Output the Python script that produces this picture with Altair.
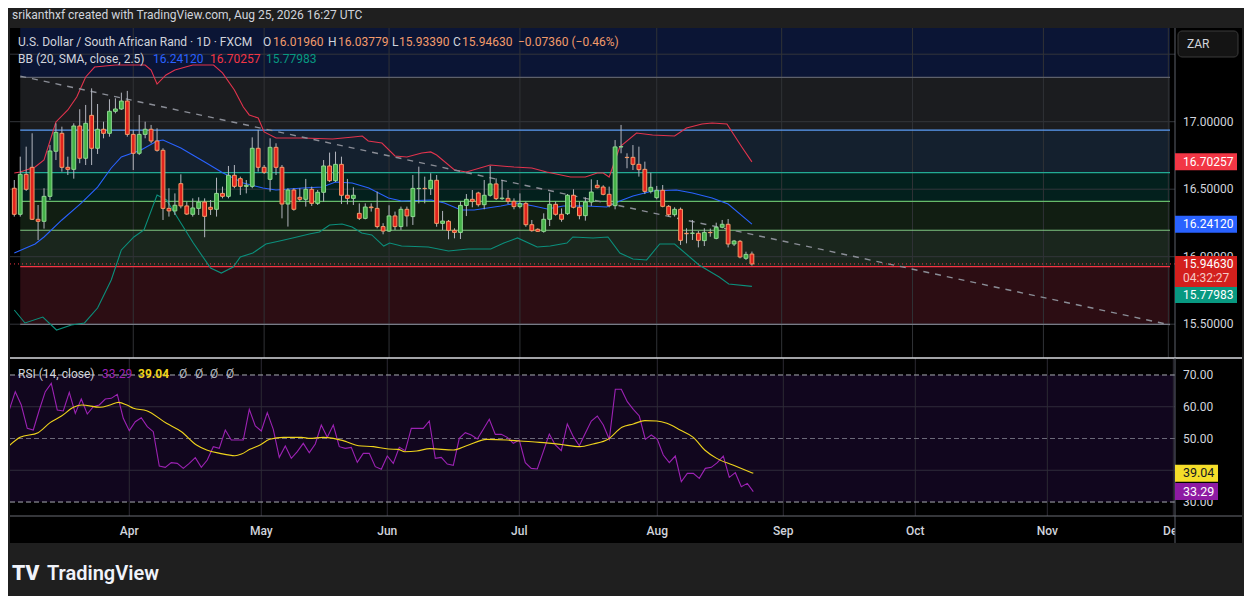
import altair as alt
import pandas as pd

FONT = "Roboto"
TXT = "#d1d4dc"
FS = 12

# ---------------- data ----------------
first_session = "2026-03-04"   # first (partly visible) daily bar
last_session = "2026-12-31"    # end of the visible time axis

opens = [16.507, 16.314, 16.610, 16.662, 16.277, 16.262, 16.447, 16.781, 16.914, 16.662,
         16.647, 16.968, 16.729, 17.047, 16.803, 16.944, 16.914, 17.077, 17.094, 17.153,
         16.906, 16.766, 16.906, 16.944, 16.857, 16.788, 16.358, 16.339, 16.541, 16.376,
         16.314, 16.358, 16.405, 16.366, 16.351, 16.469, 16.447, 16.603, 16.578, 16.521,
         16.521, 16.803, 16.662, 16.573, 16.810, 16.662, 16.390, 16.494, 16.440, 16.425,
         16.499, 16.395, 16.477, 16.672, 16.563, 16.684, 16.455, 16.432, 16.321, 16.284,
         16.368, 16.358, 16.223, 16.190, 16.302, 16.223, 16.351, 16.297, 16.504, 16.506,
         16.504, 16.566, 16.247, 16.262, 16.195, 16.180, 16.380, 16.425, 16.472, 16.385,
         16.455, 16.539, 16.430, 16.432, 16.410, 16.371, 16.395, 16.237, 16.203, 16.188,
         16.277, 16.388, 16.314, 16.319, 16.455, 16.366, 16.304, 16.405, 16.529, 16.516,
         16.462, 16.378, 16.813, 16.736, 16.736, 16.684, 16.647, 16.484, 16.437, 16.492,
         16.373, 16.311, 16.351, 16.173, 16.173, 16.173, 16.119, 16.180, 16.136, 16.218,
         16.240, 16.094, 16.114, 15.988, 16.0196]
highs = [16.568, 16.741, 16.815, 16.914, 16.383, 16.507, 16.827, 16.988, 16.963, 16.741,
         16.988, 17.092, 17.124, 17.247, 17.131, 17.000, 17.166, 17.173, 17.215, 17.228,
         16.939, 17.050, 17.000, 16.976, 16.951, 16.803, 16.507, 16.469, 16.610, 16.408,
         16.432, 16.440, 16.432, 16.420, 16.585, 16.519, 16.672, 16.679, 16.593, 16.568,
         16.884, 16.939, 16.679, 16.877, 16.840, 16.679, 16.507, 16.507, 16.507, 16.576,
         16.519, 16.494, 16.716, 16.771, 16.778, 16.741, 16.576, 16.514, 16.395, 16.395,
         16.395, 16.482, 16.248, 16.381, 16.334, 16.371, 16.371, 16.605, 16.667, 16.593,
         16.618, 16.605, 16.339, 16.272, 16.210, 16.408, 16.464, 16.494, 16.481, 16.568,
         16.672, 16.580, 16.568, 16.494, 16.432, 16.469, 16.408, 16.272, 16.210, 16.321,
         16.474, 16.408, 16.358, 16.464, 16.499, 16.408, 16.440, 16.573, 16.568, 16.529,
         16.519, 16.864, 16.976, 16.766, 16.827, 16.815, 16.704, 16.622, 16.524, 16.531,
         16.383, 16.366, 16.364, 16.210, 16.272, 16.190, 16.210, 16.208, 16.252, 16.272,
         16.279, 16.124, 16.124, 16.037, 16.03779]
lows = [16.297, 16.297, 16.487, 16.272, 16.124, 16.208, 16.420, 16.716, 16.630, 16.605,
        16.578, 16.692, 16.679, 16.679, 16.761, 16.877, 16.889, 17.062, 17.087, 16.889,
        16.642, 16.753, 16.877, 16.840, 16.778, 16.272, 16.297, 16.309, 16.358, 16.309,
        16.297, 16.309, 16.144, 16.309, 16.297, 16.432, 16.432, 16.507, 16.457, 16.469,
        16.507, 16.630, 16.613, 16.482, 16.605, 16.284, 16.223, 16.341, 16.408, 16.371,
        16.376, 16.383, 16.408, 16.553, 16.553, 16.390, 16.388, 16.383, 16.272, 16.277,
        16.334, 16.210, 16.166, 16.183, 16.198, 16.198, 16.223, 16.235, 16.395, 16.395,
        16.457, 16.222, 16.198, 16.129, 16.136, 16.131, 16.301, 16.366, 16.371, 16.351,
        16.445, 16.420, 16.420, 16.390, 16.351, 16.358, 16.222, 16.185, 16.183, 16.178,
        16.227, 16.304, 16.259, 16.309, 16.358, 16.277, 16.267, 16.376, 16.506, 16.455,
        16.366, 16.351, 16.766, 16.655, 16.642, 16.593, 16.464, 16.469, 16.425, 16.366,
        16.297, 16.297, 16.087, 16.099, 16.124, 16.069, 16.079, 16.148, 16.129, 16.210,
        16.069, 16.079, 15.988, 15.976, 15.9339]
closes = [16.314, 16.610, 16.499, 16.277, 16.262, 16.447, 16.783, 16.921, 16.662, 16.647,
          16.968, 16.729, 16.988, 16.803, 16.944, 16.914, 17.077, 17.094, 17.153, 16.906,
          16.766, 16.906, 16.944, 16.857, 16.788, 16.358, 16.339, 16.381, 16.376, 16.316,
          16.361, 16.405, 16.299, 16.351, 16.469, 16.447, 16.603, 16.521, 16.521, 16.529,
          16.803, 16.662, 16.625, 16.810, 16.662, 16.390, 16.494, 16.351, 16.425, 16.499,
          16.395, 16.477, 16.672, 16.563, 16.684, 16.455, 16.432, 16.455, 16.284, 16.368,
          16.363, 16.223, 16.190, 16.302, 16.223, 16.351, 16.302, 16.506, 16.506, 16.504,
          16.566, 16.247, 16.264, 16.195, 16.180, 16.380, 16.425, 16.410, 16.385, 16.455,
          16.539, 16.430, 16.434, 16.410, 16.371, 16.393, 16.237, 16.193, 16.188, 16.277,
          16.388, 16.314, 16.277, 16.455, 16.366, 16.304, 16.405, 16.479, 16.511, 16.462,
          16.378, 16.813, 16.815, 16.734, 16.684, 16.645, 16.484, 16.514, 16.492, 16.373,
          16.311, 16.351, 16.121, 16.170, 16.175, 16.121, 16.180, 16.178, 16.218, 16.240,
          16.094, 16.116, 15.998, 16.017, 15.9463]

rsi_vals = [58.97, 64.75, 60.55, 53.20, 52.68, 58.97, 64.75, 67.37, 58.97, 58.66,
            64.54, 57.92, 62.44, 57.72, 60.02, 60.55, 62.44, 62.65, 63.91, 56.35,
            52.47, 55.30, 56.56, 53.73, 52.15, 41.34, 40.92, 42.39, 42.18, 40.60,
            42.18, 43.96, 40.92, 43.23, 47.43, 46.90, 52.68, 49.53, 49.53, 49.53,
            59.19, 53.94, 52.36, 58.14, 52.89, 44.07, 47.64, 43.75, 45.85, 48.48,
            45.54, 48.27, 54.25, 50.37, 54.25, 47.43, 46.90, 47.22, 42.49, 45.33,
            45.33, 41.13, 40.29, 44.49, 42.18, 47.22, 46.17, 53.20, 53.20, 53.20,
            55.51, 43.75, 44.07, 41.97, 41.55, 50.05, 51.84, 51.10, 49.84, 52.89,
            56.04, 51.31, 51.31, 50.37, 48.48, 49.53, 42.39, 40.60, 40.39, 45.85,
            51.42, 47.95, 46.17, 54.57, 50.58, 47.74, 51.63, 55.51, 57.09, 54.25,
            49.74, 65.49, 65.49, 61.60, 59.19, 57.09, 49.74, 51.10, 49.74, 44.80,
            42.39, 44.49, 36.40, 39.03, 39.03, 37.45, 40.60, 40.92, 42.39, 44.49,
            37.77, 39.24, 34.83, 35.88, 33.29]

rsi_ma_idx = [-1, 0.8, 3.8, 5.8, 7.7, 9.7, 11.1, 14.1, 15.8, 17.2, 18.6, 19.7, 21.9, 25.2,
              27.7, 30.2, 31.9, 34.1, 36.6, 37.7, 39.1, 40.8, 42.4, 44.7, 47.7, 49.1, 51.3,
              53, 55.2, 57.2, 59.7, 62.2, 63.8, 64.9, 66.9, 69.1, 73, 75.2, 78.6, 81.9, 84.1,
              87.4, 90.8, 94.1, 96.3, 98.8, 101.1, 103, 104.9, 106.9, 108.6, 110.8, 113,
              114.9, 116.9, 119.6, 123]
rsi_ma_vals = [47.74, 50.37, 51.84, 54.99, 57.09, 59.82, 60.55, 59.82, 60.55, 61.39, 60.55,
               59.50, 58.77, 54.78, 52.15, 47.95, 46.38, 45.33, 44.59, 45.12, 46.59, 47.95,
               49.74, 50.37, 50.37, 50.05, 50.37, 50.05, 49.00, 47.74, 47.43, 46.69, 46.59,
               45.85, 46.06, 46.80, 46.38, 47.74, 49.74, 49.53, 49.21, 48.79, 48.16, 47.43,
               48.27, 49.74, 53.52, 54.57, 55.62, 55.51, 54.78, 52.68, 50.37, 46.38, 43.75,
               41.65, 39.04]

bb_up_idx = [-1, 0, 2.5, 4, 6, 8, 9.5, 11, 12.5, 16, 21, 22, 23, 24.5, 26, 29, 32.5, 34, 36,
             37.5, 38.5, 40, 41, 43, 47.5, 52.5, 56, 57.5, 58.5, 60.8, 63, 65, 67.5, 69, 70,
             73, 75, 79, 83, 86, 88.5, 92.5, 95, 97, 98, 99, 100.8, 103.6, 106.3, 110, 112,
             114.6, 116.3, 118.8, 121.3, 123]
bb_up_vals = [16.62, 16.627, 16.664, 16.716, 16.998, 17.087, 17.183, 17.331, 17.405, 17.420,
              17.420, 17.383, 17.279, 17.346, 17.383, 17.420, 17.420, 17.361, 17.235, 17.109,
              17.050, 17.027, 16.924, 16.879, 16.879, 16.872, 16.887, 16.894, 16.857, 16.842,
              16.746, 16.739, 16.768, 16.776, 16.753, 16.642, 16.627, 16.679, 16.664, 16.657,
              16.627, 16.590, 16.590, 16.620, 16.620, 16.590, 16.813, 16.916, 16.901, 16.894,
              16.953, 16.983, 16.990, 16.983, 16.813, 16.70257]
bb_mid_idx = [-1, 2.5, 4, 7, 10.3, 13, 15.3, 17, 20.3, 23, 24, 27, 29, 31.3, 34.1, 37.5, 40.8,
              43, 47.5, 50.8, 53, 55.8, 58.6, 61.9, 64.1, 69.1, 71.3, 74.1, 76.3, 80.8, 83.6,
              86.3, 88.6, 91.3, 95.2, 98.6, 100.8, 103, 106.3, 110.3, 113, 116.3, 119, 123]
bb_mid_vals = [16.027, 16.094, 16.146, 16.272, 16.398, 16.516, 16.657, 16.739, 16.790, 16.857,
               16.864, 16.805, 16.753, 16.694, 16.620, 16.546, 16.509, 16.494, 16.509, 16.516,
               16.553, 16.546, 16.509, 16.435, 16.413, 16.420, 16.398, 16.346, 16.346, 16.376,
               16.398, 16.376, 16.353, 16.376, 16.376, 16.368, 16.413, 16.450, 16.487, 16.494,
               16.472, 16.435, 16.390, 16.24120]
bb_lo_idx = [-1, 0.8, 3.8, 6.1, 8.6, 10.8, 13, 15.3, 17, 19.1, 20.8, 23, 24.6, 27, 29.1, 32,
             33.8, 35.8, 37, 39.1, 41.3, 43.6, 45.8, 48.6, 50.3, 52, 54.1, 55.8, 57.4, 59.1,
             61.1, 62.1, 64.1, 68.6, 72, 75.3, 79.1, 81.3, 83.6, 86.9, 89.1, 91.9, 92.9, 96.3,
             98.8, 100.8, 103, 105.3, 107.5, 110, 114.1, 117.5, 119.1, 123]
bb_lo_vals = [15.605, 15.509, 15.553, 15.457, 15.494, 15.509, 15.620, 15.827, 16.050, 16.146,
              16.198, 16.457, 16.420, 16.250, 16.101, 15.916, 15.879, 15.924, 15.998, 16.027,
              16.094, 16.116, 16.139, 16.168, 16.183, 16.235, 16.242, 16.220, 16.176, 16.161,
              16.079, 16.101, 16.079, 16.072, 16.042, 16.057, 16.057, 16.101, 16.139, 16.072,
              16.079, 16.101, 16.146, 16.139, 16.146, 16.027, 15.983, 15.976, 16.094, 16.094,
              15.939, 15.850, 15.798, 15.77983]

# drawn price zones (bottom, top, fill) and their border lines
zone_lo = [15.499, 15.926, 16.196, 16.410, 16.622, 16.938, 17.329]
zone_hi = [15.926, 16.196, 16.410, 16.622, 16.938, 17.329, 17.694]
zone_fill = ["#2c0d13", "#1a261d", "#111e12", "#03201d", "#14202e", "#1b1c1f", "#0b1535"]
zone_line_levels = [15.499, 15.926, 16.196, 16.410, 16.622, 16.938, 17.329]
zone_line_colors = ["#787b86", "#f23645", "#81c784", "#66bb6a", "#22ab94", "#5b9cf6", "#5d606b"]

trend_idx = [0, 193.28]
trend_price = [17.338, 15.495]

price_grid = [15.5, 16.0, 16.5, 17.0, 17.5]
price_ticks = [17.0, 16.5, 16.0, 15.5]
rsi_ticks = [70, 60, 50, 30]
rsi_grid = [60, 40]
rsi_dashed = [70, 30]
rsi_mid = [50]
rsi_band = [30, 70]
month_names = ["Apr", "May", "Jun", "Jul", "Aug", "Sep", "Oct", "Nov", "Dec"]
month_nums = [4, 5, 6, 7, 8, 9, 10, 11, 12]

last_close = 15.94630
change_text = "−0.07360 (−0.46%)"
countdown = "04:32:27"
bb_basis_last, bb_upper_last, bb_lower_last = 16.24120, 16.70257, 15.77983
rsi_last, rsi_ma_last = 33.29, 39.04

# ---------------- tables ----------------
sessions = pd.bdate_range(first_session, periods=len(opens))
bar_idx = list(range(-1, len(opens) - 1))
candles = pd.DataFrame({"i": bar_idx, "date": sessions, "o": opens, "h": highs,
                        "l": lows, "c": closes})
candles["dir"] = ["up" if c >= o else "down" for o, c in zip(opens, closes)]

all_sessions = pd.bdate_range(first_session, last_session)
m_idx = []
for m in month_nums:
    pos = [k for k, d in enumerate(all_sessions) if d.month == m][0]
    m_idx.append(pos - 1)
months = pd.DataFrame({"i": m_idx, "m": month_names})

xdom = [-0.88, 193.28]
W, H1, H2 = 1165, 330, 158
xs = alt.Scale(domain=xdom, nice=False, zero=False)
ys = alt.Scale(domain=[15.2496, 17.694], nice=False, zero=False)
rs = alt.Scale(domain=[25.6, 75.35], nice=False, zero=False)


def X(f):
    return alt.X(f, type="quantitative", scale=xs, axis=None)


def YP(f):
    return alt.Y(f, type="quantitative", scale=ys, axis=None)


def YR(f):
    return alt.Y(f, type="quantitative", scale=rs, axis=None)


ONE = pd.DataFrame({"a": [0]})


def label(text, x, y, color=TXT, size=FS, weight="normal", align="left"):
    return alt.Chart(pd.DataFrame({"t": [text]})).mark_text(
        align=align, baseline="middle", color=color, fontSize=size,
        fontWeight=weight, font=FONT).encode(x=alt.value(x), y=alt.value(y), text="t:N")


def box(x1, x2, y1, y2, fill, **kw):
    return alt.Chart(ONE).mark_rect(color=fill, **kw).encode(
        x=alt.value(x1), x2=alt.value(x2), y=alt.value(y1), y2=alt.value(y2))


def hline(x1, x2, y, color, width=1.0):
    return alt.Chart(ONE).mark_rule(color=color, strokeWidth=width).encode(
        x=alt.value(x1), x2=alt.value(x2), y=alt.value(y))


def vline(x, y1, y2, color, width=1.0):
    return alt.Chart(ONE).mark_rule(color=color, strokeWidth=width).encode(
        x=alt.value(x), y=alt.value(y1), y2=alt.value(y2))


def anchor(x, y):
    return alt.Chart(ONE).mark_point(opacity=0, size=1).encode(x=alt.value(x), y=alt.value(y))


# ---------------- price panel ----------------
zones = alt.Chart(pd.DataFrame({"x0": [0] * 7, "x1": [xdom[1]] * 7, "lo": zone_lo,
                                "hi": zone_hi, "col": zone_fill})).mark_rect().encode(
    x=X("x0"), x2="x1", y=YP("lo"), y2="hi", fill=alt.Fill("col:N", scale=None))

hgrid = alt.Chart(pd.DataFrame({"v": price_grid})).mark_rule(
    color="#33353a", strokeWidth=1).encode(y=YP("v"))
vgrid_p = alt.Chart(months).mark_rule(color="#303236", strokeWidth=1).encode(x=X("i"))

zlines = alt.Chart(pd.DataFrame({"x0": [0] * 7, "x1": [xdom[1]] * 7, "v": zone_line_levels,
                                 "col": zone_line_colors})).mark_rule(strokeWidth=1.2).encode(
    x=X("x0"), x2="x1", y=YP("v"), color=alt.Color("col:N", scale=None))

bb_up = alt.Chart(pd.DataFrame({"i": bb_up_idx, "v": bb_up_vals})).mark_line(
    color="#e2334d", strokeWidth=1.1, clip=True).encode(x=X("i"), y=YP("v"))
bb_mid = alt.Chart(pd.DataFrame({"i": bb_mid_idx, "v": bb_mid_vals})).mark_line(
    color="#2962ff", strokeWidth=1.1, clip=True).encode(x=X("i"), y=YP("v"))
bb_lo = alt.Chart(pd.DataFrame({"i": bb_lo_idx, "v": bb_lo_vals})).mark_line(
    color="#0b8f7c", strokeWidth=1.1, clip=True).encode(x=X("i"), y=YP("v"))

trend = alt.Chart(pd.DataFrame({"i": trend_idx, "v": trend_price})).mark_line(
    color="#8a8d96", strokeWidth=1.4, strokeDash=[6, 6]).encode(x=X("i"), y=YP("v"))

wicks = alt.Chart(candles).mark_rule(color="#b2b5be", strokeWidth=1, clip=True).encode(
    x=X("i"), y=YP("l"), y2="h")
bodies = alt.Chart(candles).mark_bar(size=3.8, strokeWidth=1, clip=True).encode(
    x=X("i"), y=YP("o"), y2="c",
    fill=alt.Fill("dir:N", scale=alt.Scale(domain=["up", "down"],
                                           range=["#43b047", "#e2231d"]), legend=None),
    stroke=alt.Stroke("dir:N", scale=alt.Scale(domain=["up", "down"],
                                               range=["#8fd891", "#f59a68"]), legend=None))

last_line = alt.Chart(pd.DataFrame({"v": [last_close]})).mark_rule(
    color="#f23645", strokeWidth=1, strokeDash=[1, 3]).encode(y=YP("v"))

# legend texts
OHLC = "#f29b6b"
legend_p = [
    label("srikanthxf created with TradingView.com, Aug 25, 2026 16:27 UTC", 2, -13),
    label("U.S. Dollar / South African Rand · 1D · FXCM", 8, 14),
    label("O", 253, 14), label(f"{opens[-1]:.5f}", 263, 14, OHLC),
    label("H", 318, 14), label(f"{highs[-1]:.5f}", 328, 14, OHLC),
    label("L", 382, 14), label(f"{lows[-1]:.5f}", 389, 14, OHLC),
    label("C", 443, 14), label(f"{closes[-1]:.5f}", 452, 14, OHLC),
    label(change_text, 508, 14, OHLC),
    label("BB (20, SMA, close, 2.5)", 8, 31),
    label(f"{bb_basis_last:.5f}", 143, 31, "#2962ff"),
    label(f"{bb_upper_last:.5f}", 200, 31, "#f23645"),
    label(f"{bb_lower_last:.5f}", 256, 31, "#089981"),
]

# right price scale
right_bg_p = box(1165, 1232, 0, H1, "#000000")
sep_v_p = vline(1165, 0, H1, "#5d606b")
p_labels = alt.Chart(pd.DataFrame({"v": price_ticks})).mark_text(
    align="left", baseline="middle", color=TXT, fontSize=FS, font=FONT).encode(
    x=alt.value(1173), y=YP("v"), text=alt.Text("v:Q", format=".5f"))

tags = pd.DataFrame({"v": [bb_upper_last, bb_basis_last],
                     "bg": ["#f23645", "#2962ff"]})
tags["t"] = [f"{v:.5f}" for v in tags["v"]]
tag_boxes = alt.Chart(tags).mark_tick(orient="horizontal", size=62, thickness=17,
                                      opacity=1).encode(
    x=alt.value(1196), y=YP("v"), color=alt.Color("bg:N", scale=None))
tag_text = alt.Chart(tags).mark_text(align="left", baseline="middle", color="#ffffff",
                                     fontSize=FS, font=FONT).encode(
    x=alt.value(1173), y=YP("v"), text="t:N")

# lower band tag is pushed below the last-price tag (as TradingView does)
low_df = pd.DataFrame({"v": [bb_lower_last], "t": [f"{bb_lower_last:.5f}"]})
low_box = alt.Chart(low_df).mark_tick(orient="horizontal", size=62, thickness=16,
                                      yOffset=8.5, color="#089981", opacity=1).encode(
    x=alt.value(1196), y=YP("v"))
low_txt = alt.Chart(low_df).mark_text(align="left", baseline="middle", color="#ffffff",
                                      fontSize=FS, font=FONT, yOffset=8.5).encode(
    x=alt.value(1173), y=YP("v"), text="t:N")

close_df = pd.DataFrame({"v": [last_close], "t": [f"{last_close:.5f}"], "cd": [countdown]})
close_box = alt.Chart(close_df).mark_tick(orient="horizontal", size=62, thickness=31,
                                          yOffset=7.5, color="#d3201d", opacity=1).encode(
    x=alt.value(1196), y=YP("v"))
close_txt = alt.Chart(close_df).mark_text(align="left", baseline="middle", color="#ffffff",
                                          fontSize=FS, font=FONT).encode(
    x=alt.value(1173), y=YP("v"), text="t:N")
cd_txt = alt.Chart(close_df).mark_text(align="left", baseline="middle", color="#f4c9c6",
                                       fontSize=FS, font=FONT, yOffset=14).encode(
    x=alt.value(1173), y=YP("v"), text="cd:N")

zar_box = box(1168, 1228, 3, 29, "#141414", stroke="#3a3a3a", strokeWidth=1, cornerRadius=4)
zar_txt = label("ZAR", 1177, 16, TXT, FS)

price = alt.layer(
    zones, hgrid, vgrid_p, zlines, bb_up, bb_mid, bb_lo, trend, wicks, bodies, last_line,
    *legend_p, right_bg_p, sep_v_p, p_labels, tag_boxes, tag_text, low_box, low_txt,
    close_box, close_txt, cd_txt, zar_box, zar_txt, anchor(-1.5, -19.5)
).properties(width=W, height=H1)

# ---------------- RSI panel ----------------
band = alt.Chart(pd.DataFrame({"lo": [rsi_band[0]], "hi": [rsi_band[1]]})).mark_rect(
    color="#11061e").encode(x=alt.value(0), x2=alt.value(W), y=YR("lo"), y2="hi")
vgrid_r = alt.Chart(months).mark_rule(color="#2c2a33", strokeWidth=1).encode(x=X("i"))
rgrid = alt.Chart(pd.DataFrame({"v": rsi_grid})).mark_rule(
    color="#2f2b3a", strokeWidth=1).encode(y=YR("v"))
rdash = alt.Chart(pd.DataFrame({"v": rsi_dashed})).mark_rule(
    color="#a9abb3", strokeWidth=1, strokeDash=[5, 3]).encode(y=YR("v"))
rmid = alt.Chart(pd.DataFrame({"v": rsi_mid})).mark_rule(
    color="#6b6878", strokeWidth=1, strokeDash=[5, 3]).encode(y=YR("v"))

rsi_line = alt.Chart(pd.DataFrame({"i": bar_idx, "v": rsi_vals})).mark_line(
    color="#9c22b3", strokeWidth=1.1, clip=True).encode(x=X("i"), y=YR("v"))
rsi_ma = alt.Chart(pd.DataFrame({"i": rsi_ma_idx, "v": rsi_ma_vals})).mark_line(
    color="#efd31c", strokeWidth=1.1, interpolate="monotone", clip=True).encode(
    x=X("i"), y=YR("v"))

legend_r = [
    label("RSI (14, close)", 8, 16),
    label(f"{rsi_last:.2f}", 92, 16, "#9c22b3"),
    label(f"{rsi_ma_last:.2f}", 128, 16, "#efd31c", weight="bold"),
    label("Ø", 169, 16, "#b2b5be"), label("Ø", 185, 16, "#b2b5be"),
    label("Ø", 200, 16, "#b2b5be"), label("Ø", 216, 16, "#b2b5be"),
]

strip = box(0, 1232, H2, H2 + 27, "#000000")
m_labels = alt.Chart(months).mark_text(align="center", baseline="middle", color=TXT,
                                       fontSize=FS, font=FONT, fontWeight=500).encode(
    x=X("i"), y=alt.value(H2 + 15), text="m:N")
right_bg_r = box(1165, 1232, 0, H2 + 27, "#000000")
top_sep = hline(0, 1232, 0, "#d9dadf", 1.6)
axis_line = hline(0, 1232, H2, "#6a6d75", 1.2)
sep_v_r = vline(1165, 0, H2 + 27, "#5d606b")

r_labels = alt.Chart(pd.DataFrame({"v": rsi_ticks})).mark_text(
    align="left", baseline="middle", color=TXT, fontSize=FS, font=FONT).encode(
    x=alt.value(1173), y=YR("v"), text=alt.Text("v:Q", format=".2f"))
rtags = pd.DataFrame({"v": [rsi_ma_last, rsi_last], "bg": ["#f5de2a", "#8e1ba3"],
                      "fg": ["#131722", "#ffffff"]})
rtags["t"] = [f"{v:.2f}" for v in rtags["v"]]
rtag_boxes = alt.Chart(rtags).mark_tick(orient="horizontal", size=43, thickness=17,
                                        opacity=1).encode(
    x=alt.value(1186.5), y=YR("v"), color=alt.Color("bg:N", scale=None))
rtag_text = alt.Chart(rtags).mark_text(align="left", baseline="middle", fontSize=FS + 0.5,
                                       font=FONT).encode(
    x=alt.value(1173), y=YR("v"), text="t:N", color=alt.Color("fg:N", scale=None))

logo_icon = label("TV", 2, 216, "#f0f3fa", 21, weight=900)
logo_txt = label("TradingView", 37, 216, "#f0f3fa", 20, weight=600)

rsi = alt.layer(
    band, vgrid_r, rgrid, rdash, rmid, rsi_line, rsi_ma, *legend_r, strip, m_labels,
    right_bg_r, top_sep, axis_line, sep_v_r, r_labels, rtag_boxes, rtag_text,
    logo_icon, logo_txt, anchor(1233.5, 237.5)
).properties(width=W, height=H2)

chart = alt.vconcat(price, rsi, spacing=0, bounds="flush", padding=0).configure(
    background="#1f1f1f", font=FONT).configure_view(fill="#000000", strokeWidth=0)

chart.save("out.html", embed_options={"renderer": "svg", "actions": False})
